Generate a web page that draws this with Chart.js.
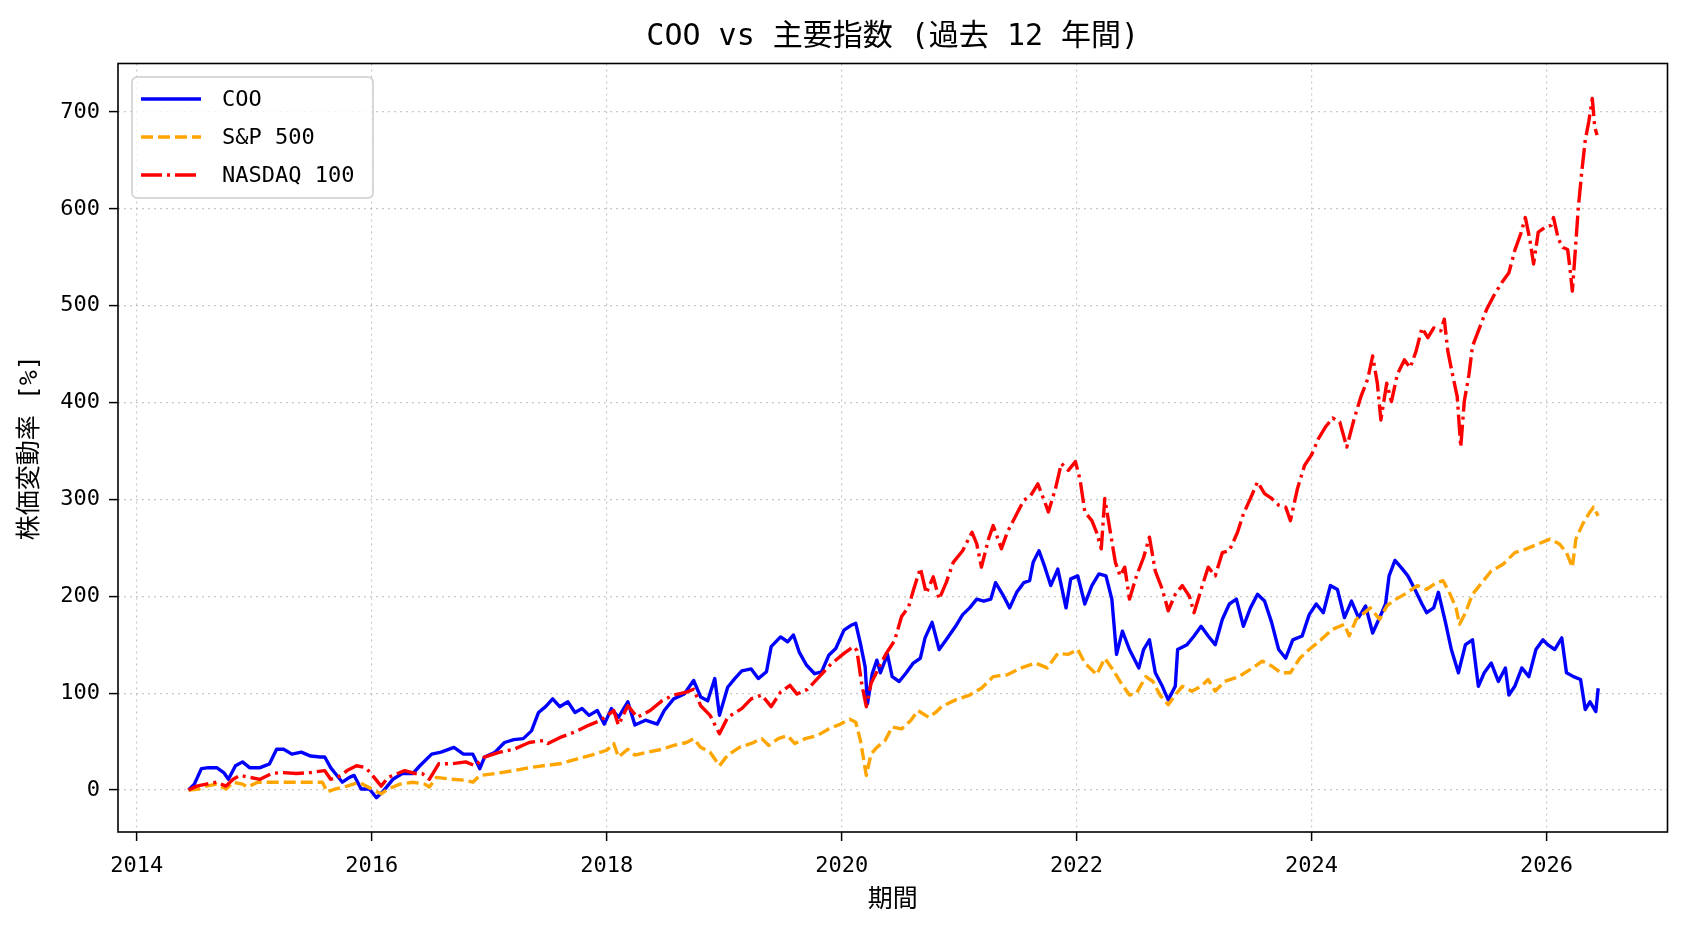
<!DOCTYPE html>
<html lang="ja">
<head>
<meta charset="utf-8">
<title>COO vs 主要指数</title>
<script src="https://cdn.jsdelivr.net/npm/chart.js"></script>
<style>
  html, body { margin: 0; padding: 0; background: #ffffff; }
  #wrap { width: 1688px; height: 932px; }
</style>
</head>
<body>
<div id="wrap"><canvas id="chart" width="1688" height="932"></canvas></div>
<script>
// ---- data (decimal years, % change from start) ----
const cooYears = [2014.44, 2014.49, 2014.55, 2014.61, 2014.68, 2014.74, 2014.78, 2014.84, 2014.90, 2014.96,
  2015.05, 2015.13, 2015.19, 2015.25, 2015.32, 2015.40, 2015.48, 2015.56, 2015.60, 2015.65, 2015.69, 2015.75,
  2015.81, 2015.85, 2015.91, 2015.98, 2016.04, 2016.10, 2016.18, 2016.26, 2016.35, 2016.41, 2016.51, 2016.59,
  2016.70, 2016.78, 2016.86, 2016.92, 2016.96, 2017.05, 2017.13, 2017.21, 2017.29, 2017.36, 2017.42, 2017.48,
  2017.54, 2017.60, 2017.67, 2017.73, 2017.79, 2017.85, 2017.92, 2017.98, 2018.04, 2018.10, 2018.18, 2018.24,
  2018.33, 2018.43, 2018.49, 2018.57, 2018.66, 2018.74, 2018.80, 2018.86, 2018.92, 2018.96, 2019.03, 2019.09,
  2019.15, 2019.23, 2019.29, 2019.36, 2019.40, 2019.48, 2019.54, 2019.59, 2019.64, 2019.70, 2019.77, 2019.83,
  2019.89, 2019.95, 2020.02, 2020.08, 2020.12, 2020.16, 2020.20, 2020.22, 2020.26, 2020.30, 2020.33, 2020.39,
  2020.43, 2020.49, 2020.55, 2020.61, 2020.67, 2020.71, 2020.77, 2020.83, 2020.89, 2020.97, 2021.03, 2021.09,
  2021.15, 2021.21, 2021.27, 2021.31, 2021.37, 2021.43, 2021.49, 2021.55, 2021.60, 2021.63, 2021.68, 2021.73,
  2021.78, 2021.84, 2021.91, 2021.95, 2022.01, 2022.07, 2022.13, 2022.19, 2022.25, 2022.30, 2022.34, 2022.39,
  2022.45, 2022.53, 2022.57, 2022.62, 2022.67, 2022.73, 2022.78, 2022.84, 2022.86, 2022.94, 2023.00, 2023.06,
  2023.12, 2023.18, 2023.24, 2023.30, 2023.36, 2023.42, 2023.48, 2023.54, 2023.60, 2023.66, 2023.72, 2023.78,
  2023.84, 2023.92, 2023.98, 2024.04, 2024.10, 2024.16, 2024.22, 2024.28, 2024.34, 2024.40, 2024.46, 2024.52,
  2024.58, 2024.63, 2024.66, 2024.71, 2024.76, 2024.82, 2024.88, 2024.94, 2024.98, 2025.04, 2025.08, 2025.14,
  2025.19, 2025.25, 2025.31, 2025.37, 2025.42, 2025.47, 2025.53, 2025.59, 2025.65, 2025.68, 2025.73, 2025.79,
  2025.85, 2025.91, 2025.97, 2026.01, 2026.07, 2026.13, 2026.17, 2026.23, 2026.29, 2026.33, 2026.37, 2026.42,
  2026.44];
const cooValues = [0, 6, 22, 23, 23, 18, 11, 25, 29, 23,
  23, 27, 42, 42, 37, 39, 35, 34, 34, 23, 17, 8,
  13, 15, 1, 1, -8, -1, 11, 17, 17, 25, 37, 39,
  44, 37, 37, 22, 34, 39, 49, 52, 53, 61, 80, 86,
  94, 86, 91, 80, 84, 77, 82, 68, 84, 75, 91, 67,
  72, 68, 82, 94, 99, 113, 96, 92, 115, 77, 106, 115,
  123, 125, 115, 122, 148, 158, 153, 160, 142, 129, 120, 122,
  139, 146, 165, 170, 172, 151, 127, 89, 120, 134, 121, 140,
  117, 112, 121, 131, 136, 157, 173, 145, 155, 169, 181, 188,
  197, 195, 197, 214, 202, 188, 204, 214, 216, 235, 247, 230,
  211, 228, 188, 218, 221, 192, 211, 223, 221, 197, 140, 164,
  145, 126, 145, 155, 121, 107, 93, 107, 145, 150, 159, 169,
  159, 150, 176, 192, 197, 169, 188, 202, 195, 173, 145, 136,
  155, 159, 181, 192, 183, 211, 207, 178, 195, 178, 190, 162,
  178, 192, 221, 237, 230, 221, 207, 192, 183, 188, 204, 173,
  145, 121, 150, 155, 107, 121, 131, 112, 126, 98, 107, 126,
  117, 145, 155, 150, 145, 157, 121, 117, 114, 83, 91, 81,
  105];

const spxYears = [2014.44, 2014.53, 2014.59, 2014.68, 2014.76, 2014.82, 2014.90, 2014.94, 2015.03, 2015.13,
  2015.23, 2015.36, 2015.48, 2015.58, 2015.62, 2015.69, 2015.79, 2015.89, 2016.00, 2016.08, 2016.14, 2016.24,
  2016.35, 2016.45, 2016.49, 2016.55, 2016.68, 2016.80, 2016.86, 2016.92, 2017.05, 2017.21, 2017.34, 2017.46,
  2017.60, 2017.75, 2017.87, 2018.00, 2018.06, 2018.10, 2018.18, 2018.24, 2018.35, 2018.47, 2018.57, 2018.68,
  2018.74, 2018.80, 2018.88, 2018.96, 2019.03, 2019.13, 2019.23, 2019.32, 2019.38, 2019.46, 2019.54, 2019.60,
  2019.69, 2019.79, 2019.89, 2019.99, 2020.07, 2020.12, 2020.16, 2020.21, 2020.25, 2020.30, 2020.37, 2020.43,
  2020.51, 2020.59, 2020.65, 2020.74, 2020.80, 2020.85, 2020.97, 2021.09, 2021.19, 2021.29, 2021.41, 2021.53,
  2021.65, 2021.75, 2021.84, 2021.93, 2022.01, 2022.07, 2022.13, 2022.17, 2022.24, 2022.31, 2022.37, 2022.45,
  2022.51, 2022.59, 2022.65, 2022.71, 2022.78, 2022.84, 2022.90, 2022.98, 2023.06, 2023.12, 2023.18, 2023.26,
  2023.38, 2023.50, 2023.58, 2023.66, 2023.74, 2023.82, 2023.90, 2023.98, 2024.08, 2024.18, 2024.28, 2024.32,
  2024.38, 2024.50, 2024.58, 2024.64, 2024.72, 2024.82, 2024.90, 2024.98, 2025.06, 2025.12, 2025.18, 2025.23,
  2025.26, 2025.31, 2025.37, 2025.43, 2025.53, 2025.63, 2025.73, 2025.83, 2025.93, 2026.03, 2026.11, 2026.17,
  2026.22, 2026.25, 2026.31, 2026.37, 2026.40, 2026.44];
const spxValues = [0, 1, 4, 6, 1, 8, 6, 3, 8, 8,
  8, 8, 8, 8, -2, 1, 4, 8, 1, -4, 1, 6,
  8, 6, 3, 13, 11, 10, 8, 15, 17, 20, 23, 25,
  27, 32, 36, 41, 48, 34, 42, 36, 39, 42, 46, 49,
  53, 44, 39, 25, 36, 44, 48, 53, 46, 53, 56, 48,
  53, 56, 63, 68, 73, 70, 51, 15, 37, 44, 51, 65,
  63, 72, 82, 75, 80, 86, 93, 98, 105, 117, 119, 126,
  131, 126, 141, 140, 145, 131, 124, 119, 136, 124, 112, 98,
  100, 117, 112, 98, 88, 98, 107, 102, 107, 114, 102, 112,
  117, 126, 133, 128, 121, 121, 136, 145, 155, 166, 171, 159,
  176, 188, 176, 190, 197, 204, 211, 207, 214, 216, 202, 188,
  171, 183, 202, 211, 226, 233, 245, 249, 254, 259, 254, 245,
  230, 259, 275, 287, 292, 283];

const ndxYears = [2014.44, 2014.51, 2014.59, 2014.68, 2014.76, 2014.82, 2014.88, 2014.96, 2015.05, 2015.15,
  2015.23, 2015.36, 2015.48, 2015.60, 2015.65, 2015.71, 2015.79, 2015.87, 2015.95, 2016.02, 2016.08, 2016.14,
  2016.22, 2016.28, 2016.37, 2016.43, 2016.49, 2016.57, 2016.68, 2016.80, 2016.88, 2016.96, 2017.09, 2017.21,
  2017.34, 2017.46, 2017.50, 2017.60, 2017.73, 2017.85, 2017.95, 2018.06, 2018.10, 2018.18, 2018.26, 2018.37,
  2018.47, 2018.57, 2018.68, 2018.74, 2018.80, 2018.88, 2018.96, 2019.03, 2019.15, 2019.23, 2019.32, 2019.40,
  2019.48, 2019.56, 2019.62, 2019.71, 2019.81, 2019.91, 2020.02, 2020.10, 2020.13, 2020.17, 2020.21, 2020.25,
  2020.32, 2020.38, 2020.45, 2020.51, 2020.57, 2020.61, 2020.67, 2020.72, 2020.78, 2020.83, 2020.89, 2020.95,
  2021.03, 2021.11, 2021.15, 2021.19, 2021.25, 2021.29, 2021.36, 2021.41, 2021.49, 2021.55, 2021.61, 2021.67,
  2021.73, 2021.76, 2021.82, 2021.87, 2021.93, 2021.99, 2022.03, 2022.07, 2022.13, 2022.17, 2022.21, 2022.24,
  2022.29, 2022.33, 2022.37, 2022.41, 2022.45, 2022.51, 2022.57, 2022.62, 2022.67, 2022.73, 2022.78, 2022.84,
  2022.90, 2022.96, 2023.00, 2023.06, 2023.12, 2023.18, 2023.24, 2023.30, 2023.37, 2023.42, 2023.48, 2023.54,
  2023.60, 2023.66, 2023.72, 2023.78, 2023.82, 2023.88, 2023.94, 2024.00, 2024.06, 2024.12, 2024.18, 2024.24,
  2024.30, 2024.36, 2024.42, 2024.48, 2024.52, 2024.56, 2024.59, 2024.64, 2024.68, 2024.73, 2024.79, 2024.84,
  2024.89, 2024.94, 2024.99, 2025.04, 2025.10, 2025.13, 2025.16, 2025.20, 2025.24, 2025.27, 2025.30, 2025.34,
  2025.37, 2025.43, 2025.49, 2025.55, 2025.62, 2025.68, 2025.73, 2025.78, 2025.82, 2025.86, 2025.89, 2025.93,
  2025.99, 2026.04, 2026.06, 2026.10, 2026.14, 2026.18, 2026.20, 2026.22, 2026.24, 2026.27, 2026.30, 2026.33,
  2026.36, 2026.39, 2026.41, 2026.43];
const ndxValues = [0, 4, 6, 8, 4, 11, 15, 13, 11, 17,
  18, 17, 18, 20, 11, 13, 20, 25, 23, 13, 4, 13,
  17, 20, 17, 17, 11, 27, 27, 29, 25, 34, 39, 42,
  49, 51, 48, 54, 60, 67, 72, 82, 67, 87, 75, 82,
  92, 98, 101, 104, 87, 77, 58, 75, 84, 94, 98, 86,
  101, 108, 99, 104, 117, 130, 141, 148, 144, 110, 86, 110,
  127, 141, 154, 179, 189, 206, 229, 203, 220, 197, 214, 235,
  247, 266, 254, 230, 259, 273, 249, 266, 285, 299, 304, 316,
  297, 287, 311, 337, 330, 339, 320, 287, 278, 266, 249, 301,
  264, 235, 221, 230, 197, 221, 240, 261, 226, 207, 185, 202,
  211, 200, 183, 207, 230, 221, 245, 247, 266, 285, 301, 318,
  306, 301, 294, 292, 278, 311, 335, 346, 363, 375, 384, 380,
  354, 382, 406, 425, 448, 420, 382, 420, 401, 429, 444, 436,
  453, 477, 467, 477, 474, 486, 453, 429, 406, 354, 401, 429,
  458, 477, 496, 510, 524, 534, 557, 574, 591, 567, 543, 576,
  581, 583, 591, 569, 560, 558, 538, 515, 548, 600, 638, 671,
  690, 714, 685, 676];

const seriesLabels = ['COO', 'S&P 500', 'NASDAQ 100'];
const yearTicks = [2014, 2016, 2018, 2020, 2022, 2024, 2026];
const valueTicks = [0, 100, 200, 300, 400, 500, 600, 700];

// ---- view / style ----
const FONT = "'DejaVu Sans Mono', 'Noto Sans CJK JP', sans-serif";
const X_MIN = 2013.84, X_MAX = 2027.03;
const Y_MIN = -43.4, Y_MAX = 750;
const GRID_COLOR = 'rgba(176,176,176,0.7)';
const LINE_W = 3.4;

Chart.defaults.font.family = FONT;
Chart.defaults.color = '#000000';

function toPoints(xs, ys) {
  return xs.map((x, i) => ({ x: x, y: ys[i] }));
}

// legend box in the upper left + full frame round the plot
const framePlugin = {
  id: 'frameAndLegend',
  afterDatasetsDraw(chart) {
    const ctx = chart.ctx;
    const sets = chart.data.datasets;
    ctx.save();
    // legend box
    const bx = 132, by = 77, bw = 241, bh = 121, r = 5;
    ctx.beginPath();
    ctx.roundRect(bx, by, bw, bh, r);
    ctx.fillStyle = 'rgba(255,255,255,0.8)';
    ctx.fill();
    ctx.lineWidth = 1.5;
    ctx.strokeStyle = '#cccccc';
    ctx.stroke();
    ctx.font = '22px ' + FONT;
    ctx.textBaseline = 'middle';
    ctx.textAlign = 'left';
    sets.forEach((ds, i) => {
      const y = 99 + i * 38;
      ctx.beginPath();
      ctx.setLineDash(ds.borderDash || []);
      ctx.lineWidth = ds.borderWidth;
      ctx.strokeStyle = ds.borderColor;
      ctx.lineCap = 'butt';
      ctx.moveTo(141, y);
      ctx.lineTo(201, y);
      ctx.stroke();
      ctx.setLineDash([]);
      ctx.fillStyle = '#000000';
      ctx.fillText(ds.label, 222, y + 1);
    });
    ctx.restore();
  },
  afterDraw(chart) {
    const a = chart.chartArea;
    const ctx = chart.ctx;
    ctx.save();
    ctx.setLineDash([]);
    ctx.lineWidth = 1.6;
    ctx.strokeStyle = '#000000';
    ctx.strokeRect(a.left, a.top, a.right - a.left, a.bottom - a.top);
    ctx.restore();
  }
};

const ctx = document.getElementById('chart').getContext('2d');
new Chart(ctx, {
  type: 'line',
  data: {
    datasets: [
      {
        label: seriesLabels[0],
        data: toPoints(cooYears, cooValues),
        borderColor: '#0000ff',
        borderWidth: LINE_W,
        order: 2
      },
      {
        label: seriesLabels[1],
        data: toPoints(spxYears, spxValues),
        borderColor: '#ffa500',
        borderWidth: LINE_W,
        borderDash: [12, 5],
        order: 1
      },
      {
        label: seriesLabels[2],
        data: toPoints(ndxYears, ndxValues),
        borderColor: '#ff0000',
        borderWidth: LINE_W,
        borderDash: [21, 5, 3, 5],
        order: 0
      }
    ]
  },
  options: {
    responsive: false,
    animation: false,
    devicePixelRatio: 1,
    elements: {
      point: { radius: 0, hoverRadius: 0 },
      line: { tension: 0, borderCapStyle: 'butt', borderJoinStyle: 'round', fill: false }
    },
    layout: { padding: { left: 0, right: 20.5, top: 0, bottom: 0 } },
    plugins: {
      legend: { display: false },
      tooltip: { enabled: false },
      title: {
        display: true,
        text: 'COO vs 主要指数 (過去 12 年間)',
        fullSize: false,
        color: '#000000',
        font: { size: 30, weight: 'normal' },
        padding: { top: 19, bottom: 8.5 }
      }
    },
    scales: {
      x: {
        type: 'linear',
        min: X_MIN,
        max: X_MAX,
        afterBuildTicks: s => { s.ticks = yearTicks.map(v => ({ value: v })); },
        afterFit: s => { s.height = 100; },
        ticks: {
          color: '#000000',
          font: { size: 22 },
          padding: 12,
          maxRotation: 0,
          autoSkip: false,
          callback: v => String(v)
        },
        grid: {
          color: GRID_COLOR,
          lineWidth: 1.2,
          tickColor: '#000000',
          tickLength: 9,
          tickWidth: 1.5
        },
        border: { display: false, dash: [2, 4] },
        title: {
          display: true,
          text: '期間',
          color: '#000000',
          font: { size: 25 },
          padding: { top: 0, bottom: 17 }
        }
      },
      y: {
        type: 'linear',
        min: Y_MIN,
        max: Y_MAX,
        afterBuildTicks: s => { s.ticks = valueTicks.map(v => ({ value: v })); },
        afterFit: s => { s.width = 118; },
        ticks: {
          color: '#000000',
          font: { size: 22 },
          padding: 9,
          callback: v => String(v)
        },
        grid: {
          color: GRID_COLOR,
          lineWidth: 1.2,
          tickColor: '#000000',
          tickLength: 9,
          tickWidth: 1.5
        },
        border: { display: false, dash: [2, 4] },
        title: {
          display: true,
          text: '株価変動率 [%]',
          color: '#000000',
          font: { size: 25 },
          padding: { top: 15, bottom: 0 }
        }
      }
    }
  },
  plugins: [framePlugin]
});
</script>
</body>
</html>
